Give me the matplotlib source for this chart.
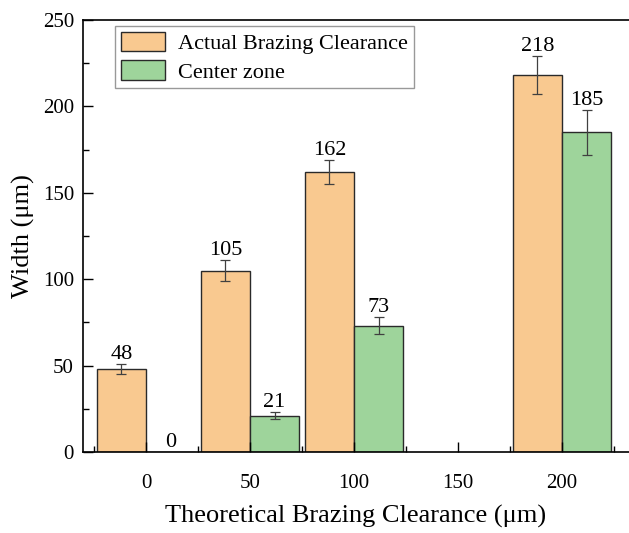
import matplotlib
matplotlib.use("Agg")
from matplotlib import pyplot as plt
import numpy as np

# data
groups = [0, 50, 100, 200]            # theoretical clearance, um
actual = [48, 105, 162, 218]
actual_err = [3, 6, 7, 11]
center = [0, 21, 73, 185]
center_err = [0, 2, 5, 13]
tick_labels = [0, 50, 100, 150, 200]

plt.rcParams['font.family'] = ['Liberation Serif', 'DejaVu Serif']

fig = plt.figure(figsize=(6.29, 5.33), dpi=100)
ax = fig.add_axes([83 / 629, 81 / 533, 546 / 629, 432 / 533])

w = 23.6
orange = '#F9C990'
green = '#9ED49B'
ekw = dict(ecolor='#404040', elinewidth=0.9, capsize=3.5, capthick=0.9)

ax.bar(groups, actual, width=-w, align='edge', color=orange,
       edgecolor='#2a2a2a', linewidth=1.0, label='Actual Brazing Clearance')
ax.bar(groups, center, width=w, align='edge', color=green,
       edgecolor='#2a2a2a', linewidth=1.0, label='Center zone')
xs1 = np.array(groups) - w / 2
xs2 = np.array(groups) + w / 2
ax.errorbar(xs1, actual, yerr=actual_err, fmt='none', **ekw)
ax.errorbar(xs2[1:], center[1:], yerr=center_err[1:], fmt='none', **ekw)

# value labels above the error bars
for x, v, e in zip(xs1, actual, actual_err):
    ax.text(x, v + e, str(v), ha='center', va='bottom', fontsize=16)
for x, v, e in zip(xs2, center, center_err):
    ax.text(x, v + e, str(v), ha='center', va='bottom', fontsize=16)

ax.set_xlim(-30.3, 232.2)
ax.set_ylim(0, 250)

ax.set_xticks(tick_labels)
ax.set_xticklabels([str(t) for t in tick_labels])
ax.set_xticks([t - 25 for t in tick_labels + [250]], minor=True)
ax.set_yticks(np.arange(0, 251, 50))
ax.set_yticks(np.arange(25, 250, 50), minor=True)

ax.tick_params(which='both', direction='in', labelsize=15, width=1.0)
ax.tick_params(which='major', length=7)
ax.tick_params(which='minor', length=4.5)
ax.tick_params(axis='x', pad=16)
ax.tick_params(axis='y', pad=6.5)
ax.spines['right'].set_visible(False)
for s in ['left', 'bottom', 'top']:
    ax.spines[s].set_linewidth(1.2)

ax.set_ylabel('Width (μm)', fontsize=19)
ax.set_xlabel('Theoretical Brazing Clearance (μm)', fontsize=19)
ax.yaxis.set_label_coords(-0.088, 0.5)
ax.xaxis.set_label_coords(0.5, -0.123)

leg = ax.legend(loc='upper left', bbox_to_anchor=(0.0586, 0.986), fontsize=16,
                frameon=True, fancybox=False, edgecolor='#808080',
                handlelength=2.0, handleheight=1.0, borderpad=0.25,
                labelspacing=0.27, handletextpad=0.6, borderaxespad=0)
leg.get_frame().set_linewidth(1.0)

fig.savefig('out.png', dpi=100)
